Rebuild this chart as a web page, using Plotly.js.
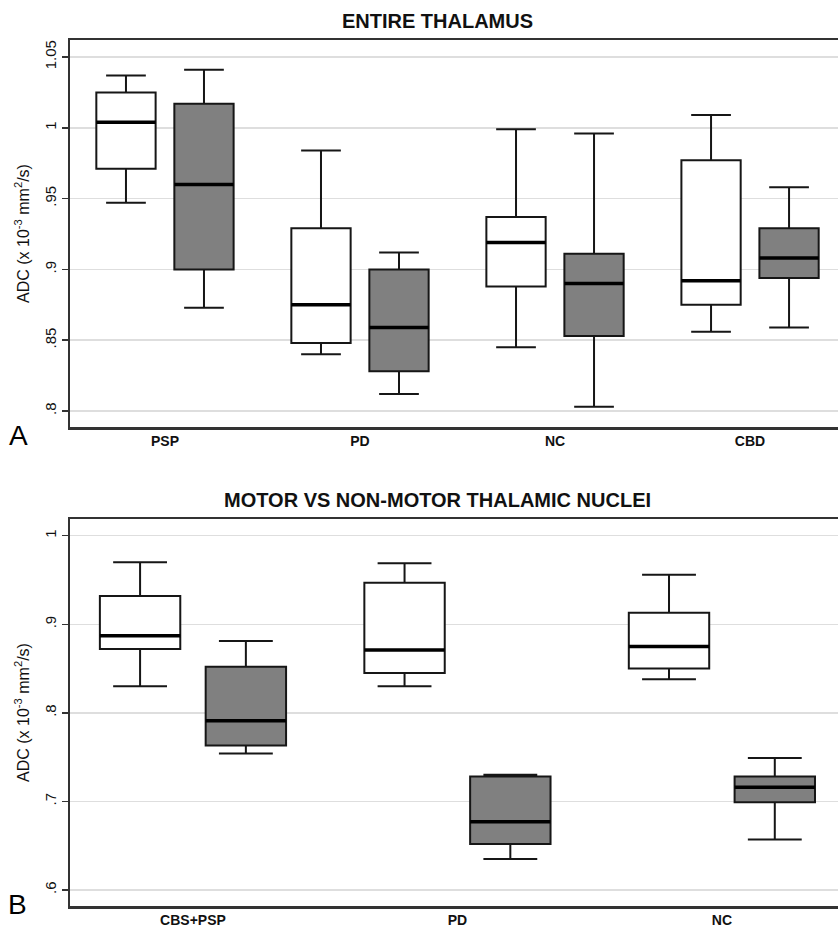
<!DOCTYPE html>
<html>
<head>
<meta charset="utf-8">
<script src="https://cdn.plot.ly/plotly-3.0.1.min.js"></script>
<style>html,body{margin:0;padding:0;background:#fff;}#chart{width:838px;height:928px;}</style>
</head>
<body>
<div id="chart"></div>
<script>
// ---- Panel A: Entire thalamus ----
const topCategories = ['PSP', 'PD', 'NC', 'CBD'];
const topWhiteLower  = [0.947, 0.840, 0.845, 0.856];
const topWhiteQ1     = [0.971, 0.848, 0.888, 0.875];
const topWhiteMedian = [1.004, 0.875, 0.919, 0.892];
const topWhiteQ3     = [1.025, 0.929, 0.937, 0.977];
const topWhiteUpper  = [1.037, 0.984, 0.999, 1.009];

const topGrayLower  = [0.873, 0.812, 0.803, 0.859];
const topGrayQ1     = [0.900, 0.828, 0.853, 0.894];
const topGrayMedian = [0.960, 0.859, 0.890, 0.908];
const topGrayQ3     = [1.017, 0.900, 0.911, 0.929];
const topGrayUpper  = [1.041, 0.912, 0.996, 0.958];

const topTickVals = [0.8, 0.85, 0.9, 0.95, 1, 1.05];
const topTickText = ['.8', '.85', '.9', '.95', '1', '1.05'];

// ---- Panel B: Motor vs non-motor thalamic nuclei ----
const botCategories = ['CBS+PSP', 'PD', 'NC'];
const botWhiteLower  = [0.830, 0.830, 0.838];
const botWhiteQ1     = [0.872, 0.845, 0.850];
const botWhiteMedian = [0.887, 0.871, 0.875];
const botWhiteQ3     = [0.932, 0.947, 0.913];
const botWhiteUpper  = [0.970, 0.969, 0.956];

const botGrayLower  = [0.754, 0.635, 0.657];
const botGrayQ1     = [0.763, 0.652, 0.699];
const botGrayMedian = [0.791, 0.677, 0.716];
const botGrayQ3     = [0.852, 0.728, 0.728];
const botGrayUpper  = [0.881, 0.730, 0.749];

const botTickVals = [0.6, 0.7, 0.8, 0.9, 1];
const botTickText = ['.6', '.7', '.8', '.9', '1'];

const FONT = 'Liberation Sans, Arial, Helvetica, sans-serif';
const LINE = '#161616';

function boxTrace(x, lo, q1, med, q3, hi, fill, group, xa, ya) {
  return {
    type: 'box', x: x, lowerfence: lo, q1: q1, median: med, q3: q3, upperfence: hi,
    fillcolor: fill, line: {color: LINE, width: 2}, whiskerwidth: 0.67,
    offsetgroup: group, xaxis: xa, yaxis: ya, showlegend: false, boxpoints: false,
    hoverinfo: 'skip'
  };
}
function medianTrace(x, med, group, xa, ya) {
  return {
    type: 'box', x: x, lowerfence: med, q1: med, median: med, q3: med, upperfence: med,
    fillcolor: 'rgba(0,0,0,0)', line: {color: '#000', width: 3.5}, whiskerwidth: 0.67,
    offsetgroup: group, xaxis: xa, yaxis: ya, showlegend: false, boxpoints: false,
    hoverinfo: 'skip'
  };
}

const data = [
  boxTrace(topCategories, topWhiteLower, topWhiteQ1, topWhiteMedian, topWhiteQ3, topWhiteUpper, '#ffffff', 'w', 'x', 'y'),
  boxTrace(topCategories, topGrayLower, topGrayQ1, topGrayMedian, topGrayQ3, topGrayUpper, '#808080', 'g', 'x', 'y'),
  medianTrace(topCategories, topWhiteMedian, 'w', 'x', 'y'),
  medianTrace(topCategories, topGrayMedian, 'g', 'x', 'y'),
  boxTrace(botCategories, botWhiteLower, botWhiteQ1, botWhiteMedian, botWhiteQ3, botWhiteUpper, '#ffffff', 'w', 'x2', 'y2'),
  boxTrace(botCategories, botGrayLower, botGrayQ1, botGrayMedian, botGrayQ3, botGrayUpper, '#808080', 'g', 'x2', 'y2'),
  medianTrace(botCategories, botWhiteMedian, 'w', 'x2', 'y2'),
  medianTrace(botCategories, botGrayMedian, 'g', 'x2', 'y2')
];

const xCommon = {
  type: 'category', showline: true, linecolor: '#333', linewidth: 2.5, mirror: true,
  ticks: '', showgrid: false, zeroline: false, fixedrange: true,
  tickfont: {family: FONT, size: 14, color: '#111', weight: 'bold'}, ticklabelstandoff: 0
};
const yCommon = {
  showline: true, linecolor: '#333', linewidth: 2.5, mirror: false,
  ticks: 'outside', ticklen: 6, tickwidth: 1.5, tickcolor: '#333',
  showgrid: true, gridcolor: '#dedede', gridwidth: 1.5, zeroline: false,
  tickangle: -90, tickmode: 'array', fixedrange: true,
  tickfont: {family: FONT, size: 15, color: '#111'}
};
const yTitle = {text: 'ADC (x 10<sup>-3</sup> mm<sup>2</sup>/s)', font: {family: FONT, size: 16, color: '#111'}, standoff: 8};

const layout = {
  width: 838, height: 928,
  margin: {l: 70, r: 0, t: 0, b: 0},
  paper_bgcolor: '#fff', plot_bgcolor: '#fff',
  boxmode: 'group', boxgap: 0.2, boxgroupgap: 0.24,
  title: {text: 'ENTIRE THALAMUS', font: {family: FONT, size: 20, color: '#111', weight: 'bold'},
          xref: 'container', yref: 'container', x: 437.5 / 838, y: 1 - 20.5 / 928, xanchor: 'center', yanchor: 'middle'},
  xaxis: Object.assign({}, xCommon, {domain: [0, 1], anchor: 'y', range: [-0.487, 3.451]}),
  yaxis: Object.assign({}, yCommon, {domain: [1 - 427 / 928, 1 - 40 / 928], anchor: 'x', range: [0.7887, 1.062],
          tickvals: topTickVals, ticktext: topTickText, title: yTitle}),
  xaxis2: Object.assign({}, xCommon, {domain: [0, 1], anchor: 'y2', range: [-0.465, 2.439]}),
  yaxis2: Object.assign({}, yCommon, {domain: [1 - 906 / 928, 1 - 519 / 928], anchor: 'x2', range: [0.5819, 1.0189],
          tickvals: botTickVals, ticktext: botTickText, title: yTitle}),
  annotations: [
    {text: 'MOTOR VS NON-MOTOR THALAMIC NUCLEI', xref: 'paper', yref: 'paper', x: (437.5 - 70) / 768, y: 1 - 500 / 928,
     xanchor: 'center', yanchor: 'middle', showarrow: false, font: {family: FONT, size: 20, color: '#111', weight: 'bold'}},
    {text: 'A', xref: 'paper', yref: 'paper', x: (18.5 - 70) / 768, y: 1 - 435 / 928, xanchor: 'center', yanchor: 'middle',
     showarrow: false, font: {family: FONT, size: 28, color: '#000'}},
    {text: 'B', xref: 'paper', yref: 'paper', x: (17.5 - 70) / 768, y: 1 - 904 / 928, xanchor: 'center', yanchor: 'middle',
     showarrow: false, font: {family: FONT, size: 28, color: '#000'}}
  ]
};

Plotly.newPlot('chart', data, layout, {staticPlot: true, displayModeBar: false});
</script>
</body>
</html>
